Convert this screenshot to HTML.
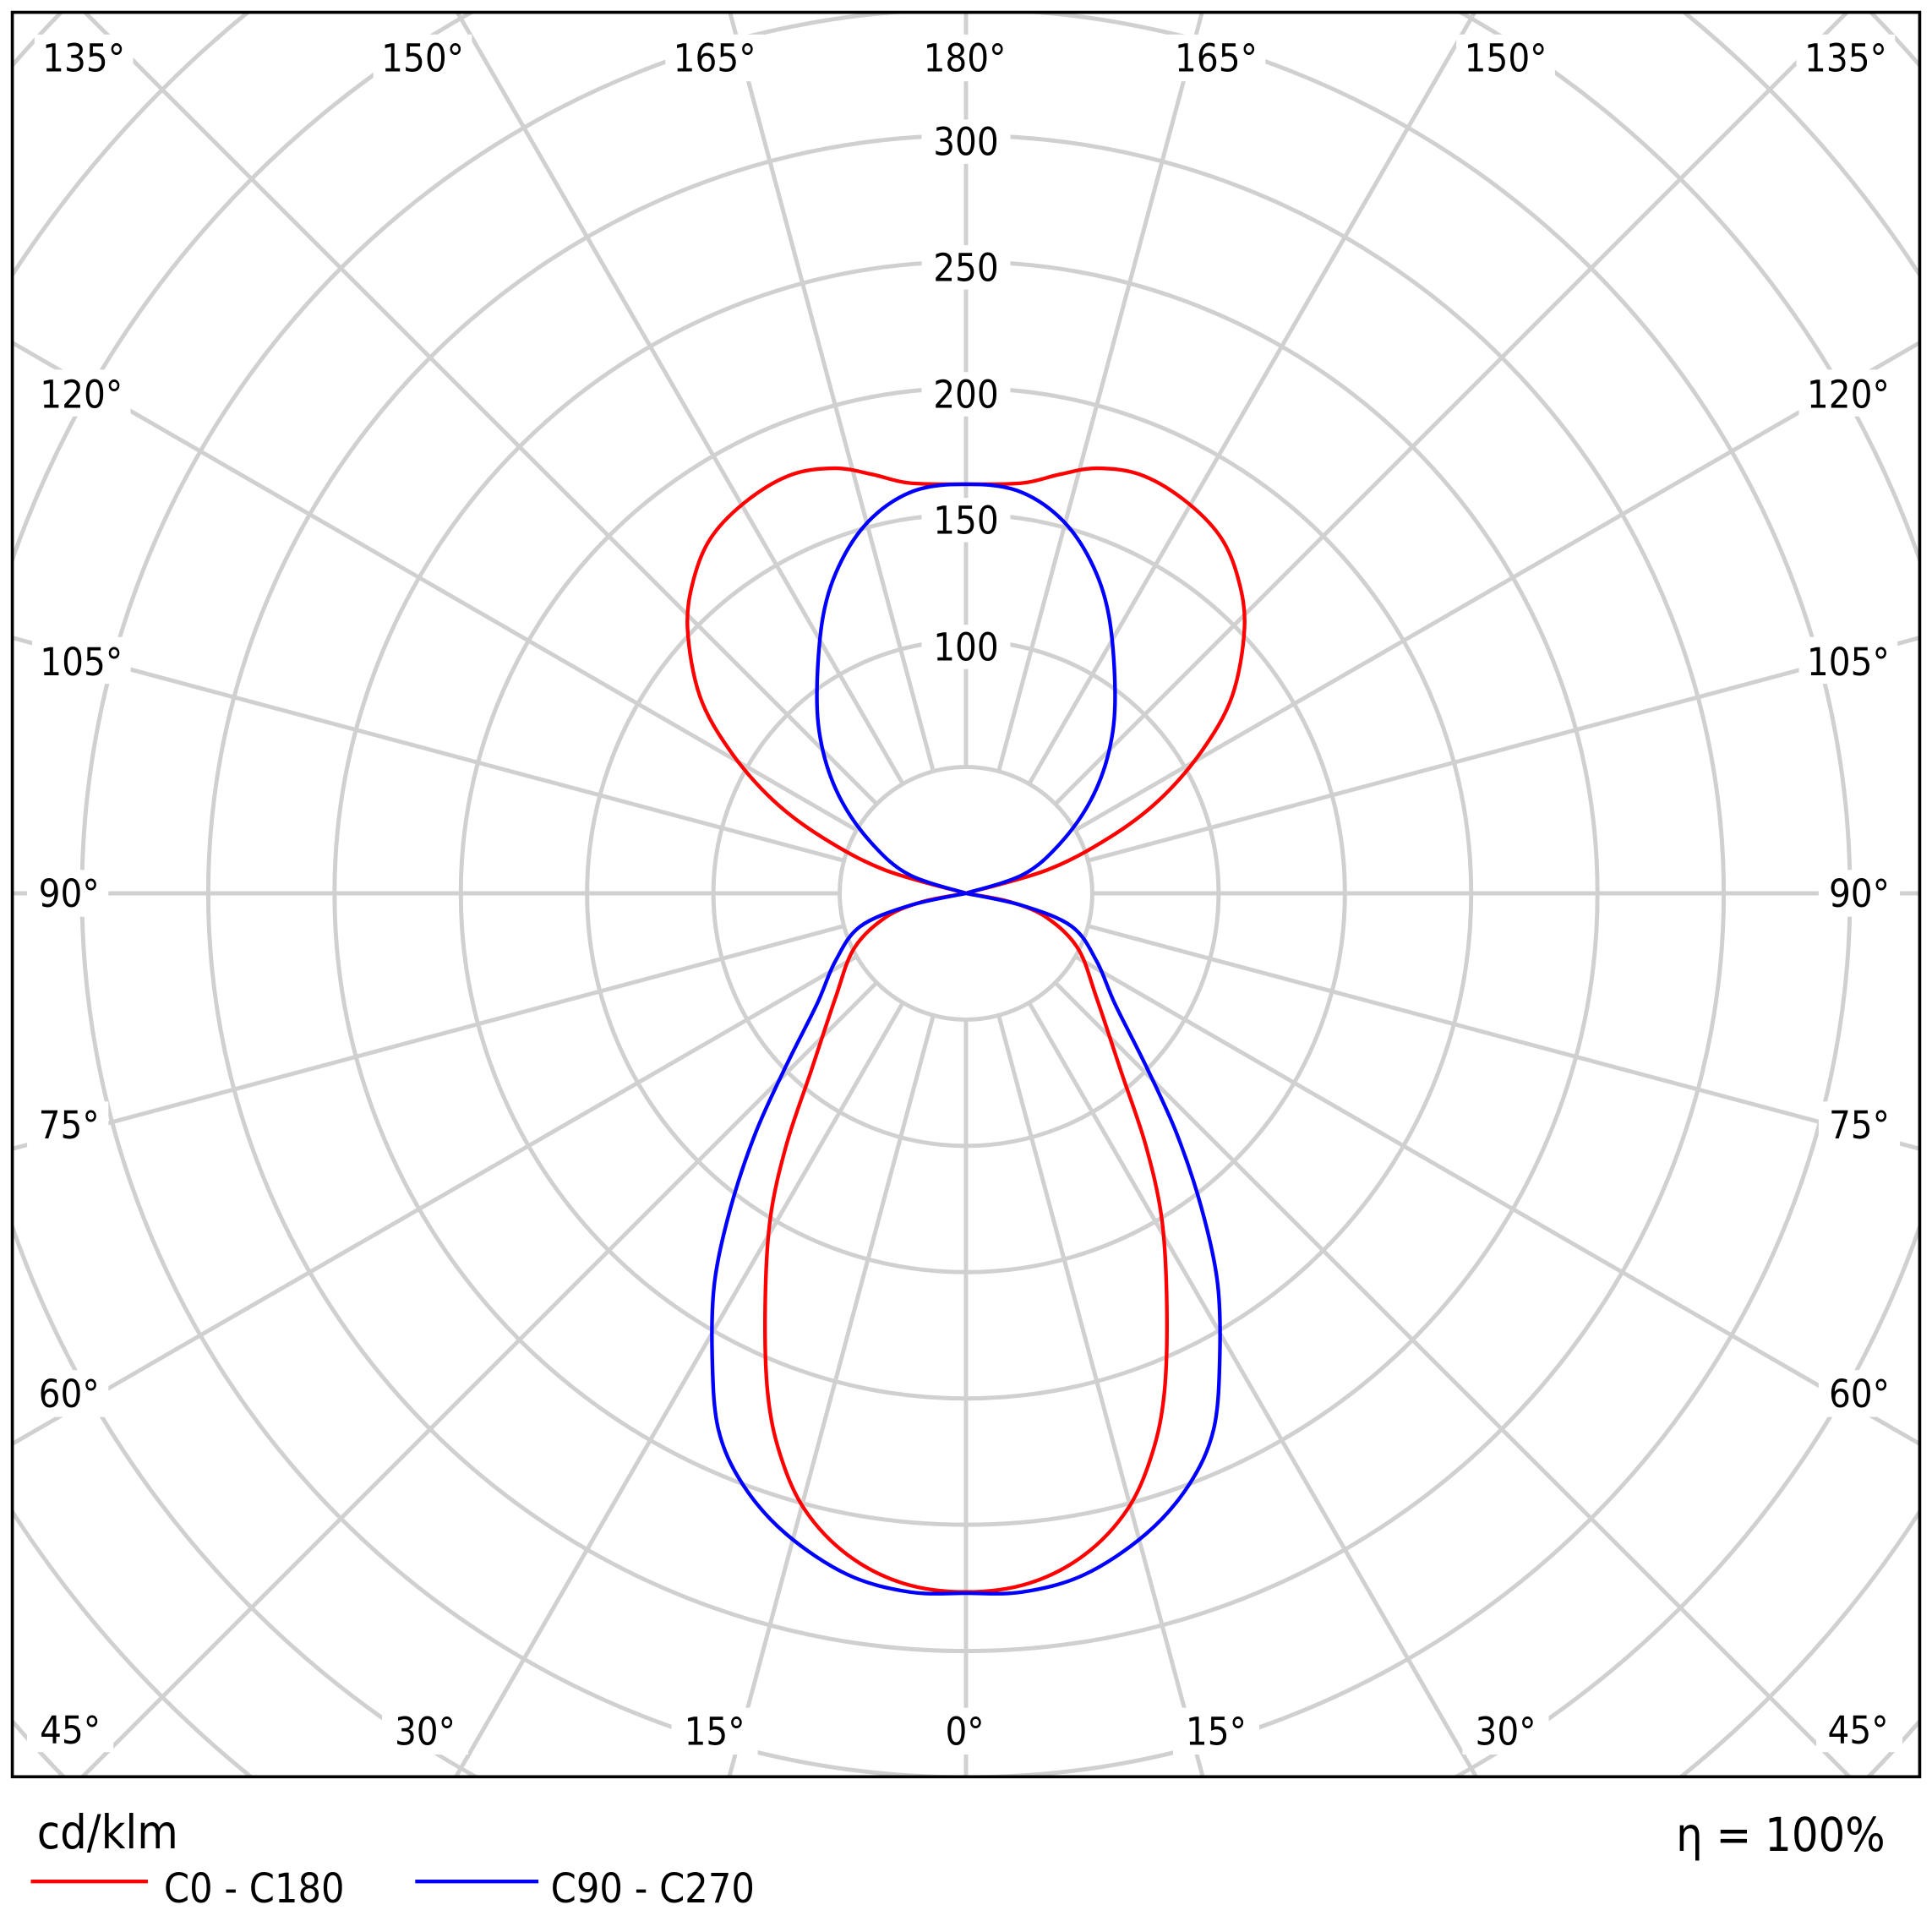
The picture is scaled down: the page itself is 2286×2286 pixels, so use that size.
<!DOCTYPE html>
<html><head><meta charset="utf-8"><style>
html,body{margin:0;padding:0;background:#fff;width:2286px;height:2286px;overflow:hidden;}
svg{display:block;}
text{font-family:"DejaVu Sans Condensed","Liberation Sans Narrow","Liberation Sans",sans-serif;fill:#000;}
</style></head><body>
<svg width="2286" height="2286" viewBox="0 0 1568 1568" xmlns="http://www.w3.org/2000/svg">
<defs><clipPath id="c"><rect x="10" y="10" width="1548" height="1432"/></clipPath></defs>
<rect width="1568" height="1568" fill="#fff"/>
<g clip-path="url(#c)" stroke="#d0d0d0" stroke-width="3.4" fill="none">
<circle cx="784" cy="725" r="102.5"/><circle cx="784" cy="725" r="205"/><circle cx="784" cy="725" r="307.5"/><circle cx="784" cy="725" r="410"/><circle cx="784" cy="725" r="512.5"/><circle cx="784" cy="725" r="615"/><circle cx="784" cy="725" r="717.5"/><circle cx="784" cy="725" r="820"/><circle cx="784" cy="725" r="922.5"/><circle cx="784" cy="725" r="1025"/><circle cx="784" cy="725" r="1127.5"/>
<g transform="translate(784,725)">
<line x1="0" y1="102.5" x2="0" y2="1200"/><line x1="0" y1="-102.5" x2="0" y2="-1200"/>
<line x1="102.5" y1="0" x2="1200" y2="0"/><line x1="-102.5" y1="0" x2="-1200" y2="0"/>
<g transform="rotate(15)"><line x1="0" y1="102.5" x2="0" y2="1200"/><line x1="0" y1="-102.5" x2="0" y2="-1200"/><line x1="102.5" y1="0" x2="1200" y2="0"/><line x1="-102.5" y1="0" x2="-1200" y2="0"/></g>
<g transform="rotate(30)"><line x1="0" y1="102.5" x2="0" y2="1200"/><line x1="0" y1="-102.5" x2="0" y2="-1200"/><line x1="102.5" y1="0" x2="1200" y2="0"/><line x1="-102.5" y1="0" x2="-1200" y2="0"/></g>
<g transform="rotate(45)"><line x1="0" y1="102.5" x2="0" y2="1200"/><line x1="0" y1="-102.5" x2="0" y2="-1200"/><line x1="102.5" y1="0" x2="1200" y2="0"/><line x1="-102.5" y1="0" x2="-1200" y2="0"/></g>
<g transform="rotate(60)"><line x1="0" y1="102.5" x2="0" y2="1200"/><line x1="0" y1="-102.5" x2="0" y2="-1200"/><line x1="102.5" y1="0" x2="1200" y2="0"/><line x1="-102.5" y1="0" x2="-1200" y2="0"/></g>
<g transform="rotate(75)"><line x1="0" y1="102.5" x2="0" y2="1200"/><line x1="0" y1="-102.5" x2="0" y2="-1200"/><line x1="102.5" y1="0" x2="1200" y2="0"/><line x1="-102.5" y1="0" x2="-1200" y2="0"/></g>
</g>
</g>
<g font-size="31" text-anchor="middle">
<rect x="748" y="97" width="72" height="36" fill="#fff"/><text x="784" y="126">300</text>
<rect x="748" y="199" width="72" height="36" fill="#fff"/><text x="784" y="228">250</text>
<rect x="748" y="302" width="72" height="36" fill="#fff"/><text x="784" y="331">200</text>
<rect x="748" y="404" width="72" height="36" fill="#fff"/><text x="784" y="433">150</text>
<rect x="748" y="507" width="72" height="36" fill="#fff"/><text x="784" y="536">100</text>
</g>
<g fill="none" stroke-width="3" stroke-linejoin="round" id="curves">
<polyline stroke="#f00" points="784,725 850,706 900,680 940,650 975,610 1000,565 1010,510 1005,470 990,435 960,405 925,385 890,380 860,385 830,392 784,393 738,392 708,385 678,380 643,385 608,405 578,435 563,470 558,510 568,565 593,610 628,650 668,680 718,706 784,725"/>
<polyline stroke="#00f" points="784,725 830,710 860,685 885,650 900,610 905,565 900,500 885,455 860,420 825,398 784,393 743,398 708,420 683,455 668,500 663,565 668,610 683,650 708,685 738,710 784,725"/>
<polyline stroke="#f00" points="784,725 820,732 850,745 875,770 890,810 910,870 930,930 943,990 947,1060 945,1130 935,1180 915,1225 880,1262 835,1285 784,1292 733,1285 688,1262 653,1225 633,1180 623,1130 621,1060 625,990 638,930 658,870 678,810 693,770 718,745 748,732 784,725"/>
<polyline stroke="#00f" points="784,725 830,735 870,752 890,780 905,815 930,865 955,920 975,980 988,1040 990,1100 985,1160 965,1205 930,1245 880,1278 830,1292 784,1293 738,1292 688,1278 638,1245 603,1205 583,1160 578,1100 580,1040 593,980 613,920 638,865 663,815 678,780 698,752 738,735 784,725"/>
</g>
<g font-size="31" text-anchor="middle">
<g fill="#fff" stroke="none">
<rect x="28" y="28" width="80" height="38"/><rect x="303" y="28" width="80" height="38"/><rect x="540" y="28" width="80" height="38"/><rect x="743" y="28" width="80" height="38"/><rect x="947" y="28" width="80" height="38"/><rect x="1182" y="28" width="80" height="38"/><rect x="1458" y="28" width="80" height="38"/>
<rect x="26" y="300" width="80" height="38"/><rect x="26" y="517" width="80" height="38"/><rect x="22" y="706" width="66" height="38"/><rect x="22" y="894" width="66" height="38"/><rect x="22" y="1112" width="66" height="38"/><rect x="22" y="1384" width="70" height="38"/>
<rect x="1460" y="300" width="80" height="38"/><rect x="1460" y="517" width="80" height="38"/><rect x="1476" y="706" width="66" height="38"/><rect x="1476" y="894" width="66" height="38"/><rect x="1476" y="1112" width="66" height="38"/><rect x="1474" y="1384" width="70" height="38"/>
<rect x="310" y="1386" width="70" height="38"/><rect x="545" y="1386" width="70" height="38"/><rect x="758" y="1386" width="50" height="38"/><rect x="952" y="1386" width="70" height="38"/><rect x="1187" y="1386" width="70" height="38"/>
</g>
<text x="68" y="58">135°</text><text x="343" y="58">150°</text><text x="580" y="58">165°</text><text x="783" y="58">180°</text><text x="987" y="58">165°</text><text x="1222" y="58">150°</text><text x="1498" y="58">135°</text>
<text x="66" y="331">120°</text><text x="66" y="548">105°</text><text x="56" y="736">90°</text><text x="56" y="924">75°</text><text x="56" y="1142">60°</text><text x="57" y="1415">45°</text>
<text x="1500" y="331">120°</text><text x="1500" y="548">105°</text><text x="1509" y="736">90°</text><text x="1509" y="924">75°</text><text x="1509" y="1142">60°</text><text x="1508" y="1415">45°</text>
<text x="345" y="1416">30°</text><text x="580" y="1416">15°</text><text x="783" y="1416">0°</text><text x="987" y="1416">15°</text><text x="1222" y="1416">30°</text>
</g>
<rect x="10" y="10" width="1548" height="1432" fill="none" stroke="#000" stroke-width="2.5"/>
<text x="30" y="1500" font-size="38">cd/klm</text>
<text x="1530" y="1502" font-size="38" text-anchor="end">η = 100%</text>
<line x1="25" y1="1527" x2="120" y2="1527" stroke="#f00" stroke-width="3"/>
<text x="133" y="1544" font-size="33">C0 - C180</text>
<line x1="337" y1="1527" x2="437" y2="1527" stroke="#00f" stroke-width="3"/>
<text x="447" y="1544" font-size="33">C90 - C270</text>
</svg>
<script>
(function(){
var ns="http://www.w3.org/2000/svg";
var ps=document.querySelectorAll("#curves polyline");
for(var k=0;k<ps.length;k++){
var pl=ps[k];var a=pl.getAttribute("points").trim().split(/\s+/).map(function(s){var t=s.split(",");return[+t[0],+t[1]];});
var n=a.length;var d="M"+a[0][0]+","+a[0][1];
for(var i=0;i<n-1;i++){var p0=a[Math.max(i-1,0)],p1=a[i],p2=a[i+1],p3=a[Math.min(i+2,n-1)];
d+=" C"+(p1[0]+(p2[0]-p0[0])/6)+","+(p1[1]+(p2[1]-p0[1])/6)+" "+(p2[0]-(p3[0]-p1[0])/6)+","+(p2[1]-(p3[1]-p1[1])/6)+" "+p2[0]+","+p2[1];}
var p=document.createElementNS(ns,"path");p.setAttribute("d",d);p.setAttribute("stroke",pl.getAttribute("stroke"));
pl.parentNode.replaceChild(p,pl);}
})();
</script>
</body></html>
